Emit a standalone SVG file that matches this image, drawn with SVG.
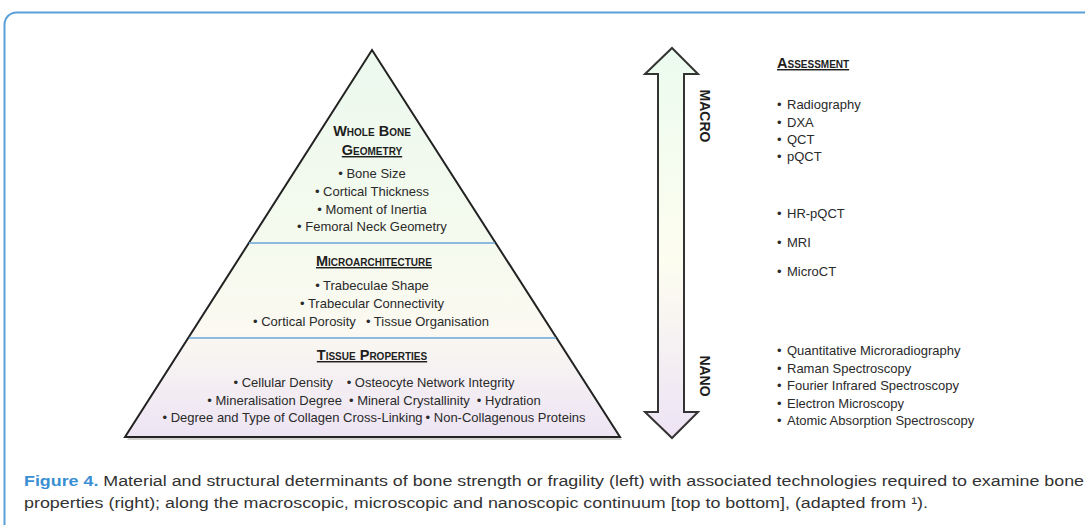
<svg xmlns="http://www.w3.org/2000/svg" width="1085" height="525" viewBox="0 0 1085 525">
<style>
.t{font-family:"Liberation Sans",Arial,sans-serif;font-size:13px;fill:#2a2a2a}
.c{text-anchor:middle}
.h{font-family:"Liberation Sans",Arial,sans-serif;font-size:14.5px;font-weight:bold;font-variant:small-caps;fill:#1e1e1e}
.u{text-decoration:underline}
.v{font-family:"Liberation Sans",Arial,sans-serif;font-size:14px;font-weight:bold;fill:#1e1e1e}
.cap{font-family:"Liberation Sans",Arial,sans-serif;font-size:15.5px;fill:#333}
.div{stroke:#6aa6d8;stroke-width:1.5}
</style>
<defs>
<linearGradient id="pg" x1="0" y1="0" x2="0" y2="1">
<stop offset="0" stop-color="#ecf9ee"/>
<stop offset="0.5" stop-color="#f5faee"/>
<stop offset="0.72" stop-color="#fbf9f1"/>
<stop offset="1" stop-color="#ede4f4"/>
</linearGradient>
<linearGradient id="ag" x1="0" y1="0" x2="0" y2="1">
<stop offset="0" stop-color="#ecfbef"/>
<stop offset="0.55" stop-color="#fdfdf0"/>
<stop offset="1" stop-color="#ede3f5"/>
</linearGradient>
</defs>
<rect x="0" y="0" width="1085" height="525" fill="#fff"/>
<rect x="4.5" y="12.5" width="1110" height="540" rx="12" fill="none" stroke="#5b9fd8" stroke-width="2"/>

<g id="pyramid">
<polygon points="374,53 622,440 127,440" fill="#000" opacity="0.18"/>
<polygon points="372,50 620,437 125,437" fill="url(#pg)" stroke="#222" stroke-width="2" stroke-linejoin="miter"/>
<line class="div" x1="249" y1="243" x2="495" y2="243"/>
<line class="div" x1="189" y1="338" x2="556" y2="338"/>
</g>

<g id="whole-bone-geometry">
<text class="h c" x="372" y="136">Whole Bone</text>
<text class="h c u" x="372" y="155">Geometry</text>
<text class="t c" x="372" y="178">• Bone Size</text>
<text class="t c" x="372" y="196">• Cortical Thickness</text>
<text class="t c" x="372" y="214">• Moment of Inertia</text>
<text class="t c" x="372" y="231">• Femoral Neck Geometry</text>
</g>

<g id="microarchitecture">
<text class="h c u" x="374" y="266">Microarchitecture</text>
<text class="t c" x="372" y="290">• Trabeculae Shape</text>
<text class="t c" x="372" y="308">• Trabecular Connectivity</text>
<text class="t c" x="371" y="326">• Cortical Porosity<tspan dx="10">• Tissue Organisation</tspan></text>
</g>

<g id="tissue-properties">
<text class="h c u" x="372" y="360">Tissue Properties</text>
<text class="t c" x="374" y="387">• Cellular Density<tspan dx="14">• Osteocyte Network Integrity</tspan></text>
<text class="t c" x="374" y="405">• Mineralisation Degree<tspan dx="7">• Mineral Crystallinity</tspan><tspan dx="7">• Hydration</tspan></text>
<text class="t c" x="374" y="422">• Degree and Type of Collagen Cross-Linking<tspan dx="3">• Non-Collagenous Proteins</tspan></text>
</g>

<g id="connectors">
<g id="scale-arrow">
<polygon points="672,48 698,74 684,74 684,412 698,412 672,438 645,412 658,412 658,74 645,74" fill="url(#ag)" stroke="#333" stroke-width="2" stroke-linejoin="miter"/>
</g>
</g>

<g id="scale-labels">
<text class="v" transform="translate(700,116) rotate(90)" text-anchor="middle">MACRO</text>
<text class="v" transform="translate(700,376) rotate(90)" text-anchor="middle">NANO</text>
</g>

<g id="assessment">
<text class="h u" x="777" y="68">Assessment</text>
<g class="t">
<text x="777" y="109">•</text><text x="787" y="109">Radiography</text>
<text x="777" y="127">•</text><text x="787" y="127">DXA</text>
<text x="777" y="144">•</text><text x="787" y="144">QCT</text>
<text x="777" y="161">•</text><text x="787" y="161">pQCT</text>
<text x="777" y="218">•</text><text x="787" y="218">HR-pQCT</text>
<text x="777" y="247">•</text><text x="787" y="247">MRI</text>
<text x="777" y="276">•</text><text x="787" y="276">MicroCT</text>
<text x="777" y="355">•</text><text x="787" y="355">Quantitative Microradiography</text>
<text x="777" y="373">•</text><text x="787" y="373">Raman Spectroscopy</text>
<text x="777" y="390">•</text><text x="787" y="390">Fourier Infrared Spectroscopy</text>
<text x="777" y="408">•</text><text x="787" y="408">Electron Microscopy</text>
<text x="777" y="425">•</text><text x="787" y="425">Atomic Absorption Spectroscopy</text>
</g>
</g>

<g id="caption">
<text class="cap" x="24" y="486" textLength="1060" lengthAdjust="spacingAndGlyphs"><tspan fill="#3a8fd2" font-weight="bold">Figure 4.</tspan> Material and structural determinants of bone strength or fragility (left) with associated technologies required to examine bone</text>
<text class="cap" x="24" y="508" textLength="904" lengthAdjust="spacingAndGlyphs">properties (right); along the macroscopic, microscopic and nanoscopic continuum [top to bottom], (adapted from ¹).</text>
</g>
</svg>
